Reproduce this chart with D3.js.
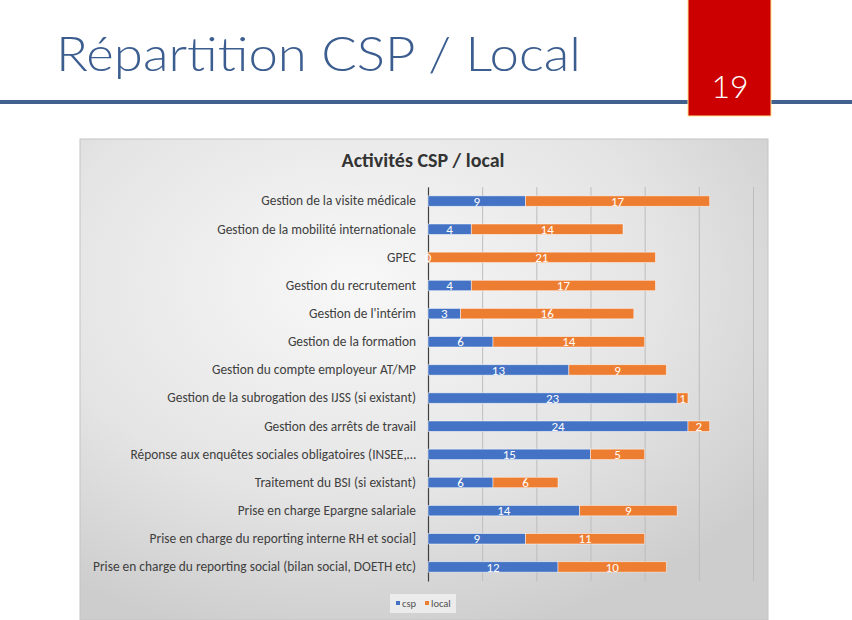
<!DOCTYPE html>
<html>
<head>
<meta charset="utf-8">
<script src="https://cdn.jsdelivr.net/npm/d3@7"></script>
<style>
  body { margin: 0; background: #fff; }
  svg { display: block; }
</style>
</head>
<body>
<div id="chart-area"></div>
<script>

// Data
var categories = [
  "Gestion de la visite médicale",
  "Gestion de la mobilité internationale",
  "GPEC",
  "Gestion du recrutement",
  "Gestion de l'intérim",
  "Gestion de la formation",
  "Gestion du compte employeur AT/MP",
  "Gestion de la subrogation des IJSS (si existant)",
  "Gestion des arrêts de travail",
  "Réponse aux enquêtes sociales obligatoires (INSEE,…",
  "Traitement du BSI (si existant)",
  "Prise en charge Epargne salariale",
  "Prise en charge du reporting interne RH et social]",
  "Prise en charge du reporting social (bilan social, DOETH etc)"
];
var csp   = [9, 4, 0, 4, 3, 6, 13, 23, 24, 15, 6, 14, 9, 12];
var local = [17, 14, 21, 17, 16, 14, 9, 1, 2, 5, 6, 9, 11, 10];
var seriesKeys = ["csp", "local"];
var xTicks = [0, 5, 10, 15, 20, 25, 30];

var colors = { csp: "#4472c4", local: "#ed7d31" };
var labelFont = "Carlito, Calibri, Lato, 'Open Sans', sans-serif";

var W = 852, H = 620;

var svg = d3.select("#chart-area").append("svg")
    .attr("width", W)
    .attr("height", H);

var defs = svg.append("defs");
var grad = defs.append("radialGradient")
    .attr("id", "panelGrad")
    .attr("cx", "40%").attr("cy", "30%").attr("r", "75%");
grad.append("stop").attr("offset", "0%").attr("stop-color", "#f8f8f8");
grad.append("stop").attr("offset", "60%").attr("stop-color", "#e4e4e4");
grad.append("stop").attr("offset", "100%").attr("stop-color", "#cdcdcd");

// Slide header
svg.append("line")
    .attr("x1", 0).attr("x2", W)
    .attr("y1", 102).attr("y2", 102)
    .attr("stroke", "#41618f")
    .attr("stroke-width", 4);

svg.append("rect")
    .attr("x", 688).attr("y", -2)
    .attr("width", 83).attr("height", 118)
    .attr("fill", "#cc0000")
    .attr("stroke", "#ffe28a")
    .attr("stroke-width", 1);

svg.append("text")
    .attr("x", 730).attr("y", 98)
    .attr("text-anchor", "middle")
    .attr("font-family", "'Century Gothic', Lato, 'DejaVu Sans', sans-serif")
    .attr("font-weight", 300)
    .attr("font-size", 32)
    .attr("fill", "#fff")
    .text("19");

svg.append("text")
    .attr("x", 56).attr("y", 71)
    .attr("font-family", "'Century Gothic', Lato, 'DejaVu Sans', sans-serif")
    .attr("font-weight", 300)
    .attr("font-size", 47)
    .attr("fill", "#3c5d8f")
    .attr("textLength", 525)
    .attr("lengthAdjust", "spacingAndGlyphs")
    .text("Répartition CSP / Local");

// Chart panel
svg.append("rect")
    .attr("x", 80).attr("y", 139)
    .attr("width", 688).attr("height", 481)
    .attr("fill", "url(#panelGrad)")
    .attr("stroke", "#c4c4c4")
    .attr("stroke-width", 1);

svg.append("text")
    .attr("x", 423).attr("y", 167)
    .attr("text-anchor", "middle")
    .attr("font-family", labelFont)
    .attr("font-size", 20)
    .attr("font-weight", "bold")
    .attr("fill", "#333")
    .text("Activités CSP / local");

// Scales
var x = d3.scaleLinear().domain([0, 30]).range([428, 753]);
var y = d3.scaleBand()
    .domain(categories)
    .range([187, 581])
    .paddingInner(0.63)
    .paddingOuter(0.315);

// Gridlines
var grid = svg.append("g")
    .attr("transform", "translate(0,581)")
    .call(d3.axisBottom(x).tickValues(xTicks).tickSize(-(581 - 187)).tickFormat(""));
grid.select(".domain").remove();
grid.selectAll(".tick line")
    .attr("stroke", "#bdbdbd")
    .attr("stroke-width", 1);

// Category axis
var yAxis = svg.append("g")
    .attr("transform", "translate(428,0)")
    .call(d3.axisLeft(y).tickSize(0).tickPadding(12));
yAxis.select(".domain")
    .attr("stroke", "#404040")
    .attr("stroke-width", 1.2);
yAxis.selectAll(".tick text")
    .attr("font-family", labelFont)
    .attr("font-size", 13.4)
    .attr("fill", "#404040");

// Stacked bars
var table = categories.map(function(c, i) {
  return { category: c, csp: csp[i], local: local[i] };
});
var stacked = d3.stack().keys(seriesKeys)(table);

var layer = svg.selectAll("g.layer").data(stacked)
  .enter().append("g")
    .attr("class", "layer")
    .attr("fill", function(d) { return colors[d.key]; });

layer.selectAll("rect").data(function(d) { return d; })
  .enter().append("rect")
    .attr("x", function(d) { return x(d[0]); })
    .attr("y", function(d) { return y(d.data.category); })
    .attr("width", function(d) { return x(d[1]) - x(d[0]); })
    .attr("height", y.bandwidth())
    .attr("stroke", "#fff")
    .attr("stroke-opacity", 0.6)
    .attr("stroke-width", 0.8);

var labels = svg.append("g");
stacked.forEach(function(s) {
  labels.selectAll("text.k-" + s.key).data(s)
    .enter().append("text")
      .attr("class", "k-" + s.key)
      .attr("x", function(d) { return (x(d[0]) + x(d[1])) / 2; })
      .attr("y", function(d) { return y(d.data.category) + y.bandwidth() / 2; })
      .attr("dy", "0.36em")
      .attr("text-anchor", "middle")
      .attr("font-family", labelFont)
      .attr("font-size", 13)
      .attr("fill", "#fff")
      .text(function(d) { return d[1] - d[0]; });
});

// Legend
var legend = svg.append("g");
legend.append("rect")
    .attr("x", 390).attr("y", 594)
    .attr("width", 66).attr("height", 19)
    .attr("fill", "#f0f0f0")
    .attr("fill-opacity", 0.85);

var legendX = { csp: 396, local: 425 };
seriesKeys.forEach(function(k) {
  legend.append("rect")
      .attr("x", legendX[k]).attr("y", 601)
      .attr("width", 4).attr("height", 4)
      .attr("fill", colors[k]);
  legend.append("text")
      .attr("x", legendX[k] + 6).attr("y", 607)
      .attr("font-family", labelFont)
      .attr("font-size", 10.5)
      .attr("fill", "#505050")
      .text(k);
});

</script>
</body>
</html>
